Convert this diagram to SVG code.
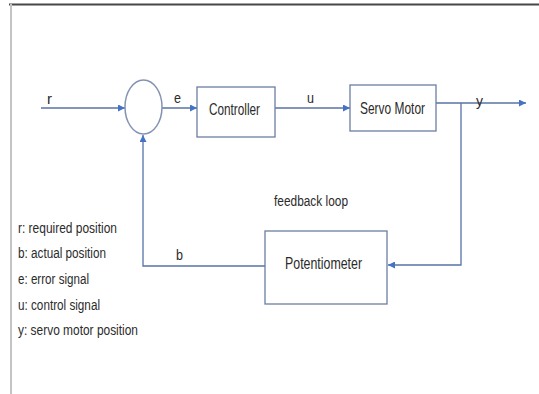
<svg xmlns="http://www.w3.org/2000/svg" width="539" height="394" viewBox="0 0 539 394">
  <defs>
    <marker id="arrow" viewBox="0 0 10 10" refX="10" refY="5" markerWidth="7" markerHeight="7" markerUnits="userSpaceOnUse" orient="auto">
      <path d="M0,0 L10,5 L0,10 z" fill="#4472c4"/>
    </marker>
  </defs>
  <style>
    .box { fill: #ffffff; stroke: #6b7ea3; stroke-width: 1.3; }
    .sum { fill: #ffffff; stroke: #8593b3; stroke-width: 1.5; }
    .wire { fill: none; stroke: #5873a6; stroke-width: 1.3; }
    .lbl { font-family: "Liberation Sans Narrow", "Liberation Sans", Arial, sans-serif; fill: #2b2b2b; }
    .big { font-size: 17px; }
    .mid { font-size: 14px; }
    .small { font-size: 14px; }
  </style>

  <!-- page frame -->
  <rect x="0" y="0" width="539" height="394" fill="#ffffff"/>
  <line x1="9" y1="4.5" x2="539" y2="4.5" stroke="#474747" stroke-width="2"/>
  <line x1="11" y1="4" x2="11" y2="394" stroke="#c4c4c4" stroke-width="2"/>

  <!-- connectors -->
  <g id="connectors">
    <line class="wire" x1="41" y1="108" x2="125" y2="108" marker-end="url(#arrow)"/>
    <line class="wire" x1="162" y1="108" x2="197" y2="108" marker-end="url(#arrow)"/>
    <line class="wire" x1="275" y1="108" x2="350" y2="108" marker-end="url(#arrow)"/>
    <line class="wire" x1="436" y1="103" x2="526" y2="103" marker-end="url(#arrow)"/>
    <polyline class="wire" points="461,103 461,265 388,265" marker-end="url(#arrow)"/>
    <polyline class="wire" points="265,266 143,266 143,135" marker-end="url(#arrow)"/>
  </g>

  <!-- signal labels -->
  <g id="signal-labels" class="lbl mid">
    <text x="47" y="104" textLength="5" lengthAdjust="spacingAndGlyphs">r</text>
    <text x="174" y="103" textLength="7" lengthAdjust="spacingAndGlyphs">e</text>
    <text x="307" y="103" textLength="7" lengthAdjust="spacingAndGlyphs">u</text>
    <text x="476" y="106" textLength="7" lengthAdjust="spacingAndGlyphs">y</text>
    <text x="176" y="260" textLength="7" lengthAdjust="spacingAndGlyphs">b</text>
  </g>

  <!-- summing junction -->
  <g id="sum">
    <ellipse class="sum" cx="143.5" cy="107" rx="18.5" ry="27"/>
  </g>

  <g id="controller">
    <rect class="box" x="197" y="87" width="78" height="50"/>
    <text class="lbl big" x="209" y="115" textLength="51" lengthAdjust="spacingAndGlyphs">Controller</text>
  </g>

  <g id="servo-motor">
    <rect class="box" x="350" y="85" width="86" height="46"/>
    <text class="lbl big" x="360" y="114" textLength="65" lengthAdjust="spacingAndGlyphs">Servo Motor</text>
  </g>

  <g id="potentiometer">
    <rect class="box" x="265" y="231" width="122" height="73"/>
    <text class="lbl big" x="285" y="269" textLength="77" lengthAdjust="spacingAndGlyphs">Potentiometer</text>
  </g>

  <text class="lbl mid" x="274" y="206" textLength="74" lengthAdjust="spacingAndGlyphs">feedback loop</text>

  <!-- legend -->
  <g id="legend" class="lbl small">
    <text x="18" y="233" textLength="99" lengthAdjust="spacingAndGlyphs">r: required position</text>
    <text x="18" y="258" textLength="88" lengthAdjust="spacingAndGlyphs">b: actual position</text>
    <text x="18" y="284" textLength="71" lengthAdjust="spacingAndGlyphs">e: error signal</text>
    <text x="18" y="310" textLength="82" lengthAdjust="spacingAndGlyphs">u: control signal</text>
    <text x="18" y="335" textLength="120" lengthAdjust="spacingAndGlyphs">y: servo motor position</text>
  </g>
</svg>
